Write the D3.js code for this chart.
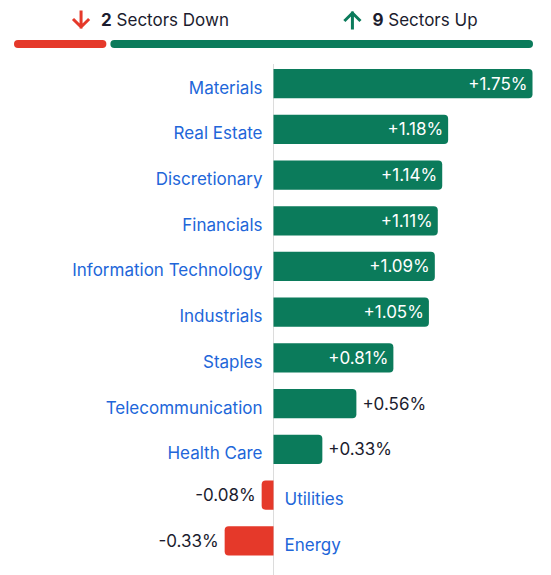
<!DOCTYPE html>
<html>
  <head>
    <style>
      body { margin: 0; background: #fff; }
      text { font-family: Inter, "Noto Sans", sans-serif; }
    </style>
  </head>
  <body>
    <script src="https://d3js.org/d3.v7.min.js"></script>
    <div id="chart"></div>
    <script>
      // Sector performance data
      var sectors = ["Materials", "Real Estate", "Discretionary", "Financials",
                     "Information Technology", "Industrials", "Staples",
                     "Telecommunication", "Health Care", "Utilities", "Energy"];
      var changes = [1.75, 1.18, 1.14, 1.11, 1.09, 1.05, 0.81, 0.56, 0.33, -0.08, -0.33];
      var downCount = 2, upCount = 9;

      var green = "#0b7b5b", red = "#e5392a", blue = "#2166d9", dark = "#1b1c2e";

      var width = 551, height = 575;
      var svg = d3.select("#chart").append("svg")
          .attr("width", width)
          .attr("height", height);

      // Header: counts and split bar
      var split = d3.scaleLinear()
          .domain([0, downCount + upCount])
          .range([14, 533]);

      svg.append("rect")
          .attr("x", split(0)).attr("y", 40)
          .attr("width", split(downCount) - split(0) - 2).attr("height", 8)
          .attr("rx", 4).attr("fill", red);
      svg.append("rect")
          .attr("x", split(downCount) + 2).attr("y", 40)
          .attr("width", split(downCount + upCount) - split(downCount) - 2).attr("height", 8)
          .attr("rx", 4).attr("fill", green);

      function header(cx, count, label, color, up) {
        var g = svg.append("g").attr("transform", "translate(" + cx + ",20)");
        var t = g.append("text")
            .attr("x", 0).attr("dy", "0.35em")
            .style("font-size", "17px").attr("fill", dark);
        t.append("tspan").style("font-weight", "700").text(count);
        t.append("tspan").text(" " + label);
        var w = t.node().getComputedTextLength();
        t.attr("x", -w / 2 + 12);
        var ax = -w / 2 - 8;
        var arrow = up
          ? "M" + ax + ",8 V-7 M" + (ax - 7) + ",0 L" + ax + ",-7 L" + (ax + 7) + ",0"
          : "M" + ax + ",-8 V7 M" + (ax - 7) + ",0 L" + ax + ",7 L" + (ax + 7) + ",0";
        g.append("path").attr("d", arrow)
            .attr("fill", "none").attr("stroke", color)
            .attr("stroke-width", 3).attr("stroke-linecap", "square");
      }
      header(153, downCount, "Sectors Down", red, false);
      header(413, upCount, "Sectors Up", green, true);

      // Bar chart
      var x = d3.scaleLinear()
          .domain([0, 1.75])
          .range([273.5, 532.5]);

      var y = d3.scaleBand()
          .domain(sectors)
          .range([69, 69 + 10 * 45.7 + 29.4])
          .paddingInner(0.36)
          .paddingOuter(0);

      var data = sectors.map(function(s, i) { return {name: s, value: changes[i]}; });

      // Zero line
      svg.append("line")
          .attr("x1", x(0)).attr("x2", x(0))
          .attr("y1", 64).attr("y2", 575)
          .attr("stroke", "#dcdcdc").attr("stroke-width", 1);

      function barPath(d) {
        var x0 = x(0), x1 = x(d.value), y0 = y(d.name), h = y.bandwidth();
        var r = Math.min(4, Math.abs(x1 - x0));
        var s = d.value >= 0 ? 1 : -1;
        return "M" + x0 + "," + y0 + " H" + (x1 - s * r) +
          " Q" + x1 + "," + y0 + " " + x1 + "," + (y0 + r) +
          " V" + (y0 + h - r) +
          " Q" + x1 + "," + (y0 + h) + " " + (x1 - s * r) + "," + (y0 + h) +
          " H" + x0 + " Z";
      }

      var rows = svg.selectAll(".row")
          .data(data)
        .enter().append("g")
          .attr("class", "row");

      rows.append("path")
          .attr("d", barPath)
          .attr("fill", function(d) { return d.value >= 0 ? green : red; });

      // Category labels
      rows.append("text")
          .attr("x", function(d) { return d.value >= 0 ? x(0) - 11 : x(0) + 11; })
          .attr("y", function(d) { return y(d.name) + y.bandwidth() / 2 + 4; })
          .attr("dy", "0.35em")
          .attr("text-anchor", function(d) { return d.value >= 0 ? "end" : "start"; })
          .style("font-size", "17px")
          .attr("fill", blue)
          .text(function(d) { return d.name; });

      // Value labels: inside the bar when it fits comfortably, else outside
      var fmt = function(v) { return (v > 0 ? "+" : "") + v.toFixed(2) + "%"; };
      rows.append("text")
          .attr("y", function(d) { return y(d.name) + y.bandwidth() / 2; })
          .attr("dy", "0.35em")
          .style("font-size", "17px")
          .text(function(d) { return fmt(d.value); })
          .each(function(d) {
            var t = d3.select(this);
            var w = this.getComputedTextLength();
            var barW = Math.abs(x(d.value) - x(0));
            if (d.value >= 0 && barW > w + 30) {
              t.attr("x", x(d.value) - 5).attr("text-anchor", "end").attr("fill", "#fff");
            } else if (d.value >= 0) {
              t.attr("x", x(d.value) + 6).attr("text-anchor", "start").attr("fill", dark);
            } else {
              t.attr("x", x(d.value) - 6).attr("text-anchor", "end").attr("fill", dark);
            }
          });
    </script>
  </body>
</html>
